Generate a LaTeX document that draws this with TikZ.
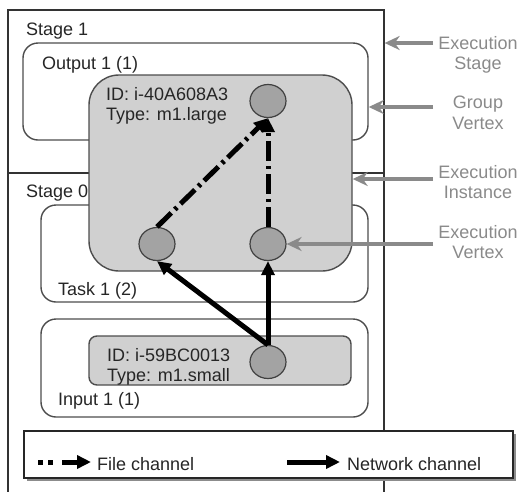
\documentclass[tikz,border=0pt]{standalone}
\usepackage{fontspec}
\setmainfont{Liberation Sans}
\usetikzlibrary{arrows.meta,shapes.geometric,shadows}
\definecolor{boxline}{HTML}{4D4D4D}
\definecolor{instfill}{HTML}{D0D0D0}
\definecolor{vertfill}{HTML}{A3A3A3}
\definecolor{callout}{HTML}{8A8A8A}
\begin{document}
\begin{tikzpicture}[x=1pt, y=-1pt, font=\fontsize{18}{20.5}\selectfont,
  stageframe/.style={draw=black!80, line width=1.3pt, inner sep=0pt},
  groupbox/.style={draw=boxline, line width=1.4pt, fill=white, rounded corners=15pt, inner sep=0pt},
  instbox/.style={draw=boxline, line width=1.4pt, fill=instfill, inner sep=0pt},
  vertex/.style={ellipse, draw=black!75, line width=1.2pt, fill=vertfill, minimum width=36pt, minimum height=33pt, inner sep=0pt},
  txt/.style={anchor=base west, inner sep=0pt, text=black!85},
  sidelabel/.style={anchor=north, align=center, inner sep=0pt, text=callout},
  filechan/.style={line width=5pt, dash pattern=on 20pt off 5pt on 3pt off 5pt, -{Triangle[length=14pt,width=13pt]}},
  netchan/.style={line width=5pt, -{Triangle[length=14pt,width=13pt]}},
  pointer/.style={draw=callout, line width=4pt, -{Stealth[length=15pt,width=14pt]}}]
  \path[use as bounding box, fill=white] (0,0) rectangle (519,491);
  \node[stageframe, minimum width=376pt, minimum height=163pt] (stage1) at (196,91.5) {};
  \node[stageframe, minimum width=376pt, minimum height=330pt] (stage0) at (196,338) {};
  \node[groupbox, minimum width=345pt, minimum height=97pt] (output) at (195.5,91.5) {};
  \node[groupbox, minimum width=327pt, minimum height=97pt] (task) at (204.5,253.5) {};
  \node[groupbox, minimum width=327pt, minimum height=98pt] (input) at (204.5,368) {};
  \node[instbox, rounded corners=30pt, minimum width=263pt, minimum height=196pt] (inst1) at (220.5,173) {};
  \node[instbox, rounded corners=8pt, minimum width=262pt, minimum height=49pt] (inst0) at (220,360.5) {};

  \node[txt] (stage1txt) at (26,35) {Stage 1};
  \node[txt] (stage0txt) at (26,197) {Stage 0};
  \node[txt] (outputtxt) at (42,69) {Output 1 (1)};
  \node[txt] (tasktxt) at (58,295) {Task 1 (2)};
  \node[txt] (inputtxt) at (58,405) {Input 1 (1)};
  \node[txt, anchor=north west, align=left] (inst1txt) at (106,87) {ID: i-40A608A3\\Type: m1.large};
  \node[txt, anchor=north west, align=left] (inst0txt) at (107,348) {ID: i-59BC0013\\Type: m1.small};

  \node[vertex] (tv) at (268,101) {};
  \node[vertex] (lv) at (157,244) {};
  \node[vertex] (rv) at (268,244) {};
  \node[vertex] (iv) at (268,362) {};
  \draw[filechan] (lv.north) -- (tv.south);
  \draw[filechan] (rv.north) -- (tv.south);
  \draw[netchan] (iv.north) -- (lv.south);
  \draw[netchan] (iv.north) -- (rv.south);

  \node[sidelabel] (lblstage) at (478,36) {Execution\\Stage};
  \node[sidelabel] (lblgroup) at (478,96) {Group\\Vertex};
  \node[sidelabel] (lblinst) at (478,165) {Execution\\Instance};
  \node[sidelabel] (lblvert) at (478,225) {Execution\\Vertex};
  \coordinate (pstage) at (433,43);
  \coordinate (pgroup) at (433,107);
  \coordinate (pinst) at (433,179);
  \coordinate (pvert) at (433,244);
  \draw[pointer] (pstage) -- (pstage -| stage1.east);
  \draw[pointer] (pgroup) -- (pgroup -| output.east);
  \draw[pointer] (pinst) -- (pinst -| inst1.east);
  \draw[pointer] (pvert) -- (rv);

  \node[draw=black!85, line width=1.4pt, fill=white, minimum width=489pt, minimum height=47pt, inner sep=0pt,
    drop shadow={shadow xshift=3pt, shadow yshift=-3pt, fill=gray!90, opacity=1}] (legend) at (268.5,454.5) {};
  \coordinate (fa) at (38,462);
  \coordinate (fb) at (91,462);
  \draw[filechan, dash pattern=on 5pt off 5pt on 5pt off 9pt on 60pt] (fa) -- (fb);
  \node[txt] (filetxt) at (97,470) {File channel};
  \coordinate (na) at (287,462);
  \coordinate (nb) at (340,462);
  \draw[netchan] (na) -- (nb);
  \node[txt] (nettxt) at (347,470) {Network channel};
\end{tikzpicture}
\end{document}
